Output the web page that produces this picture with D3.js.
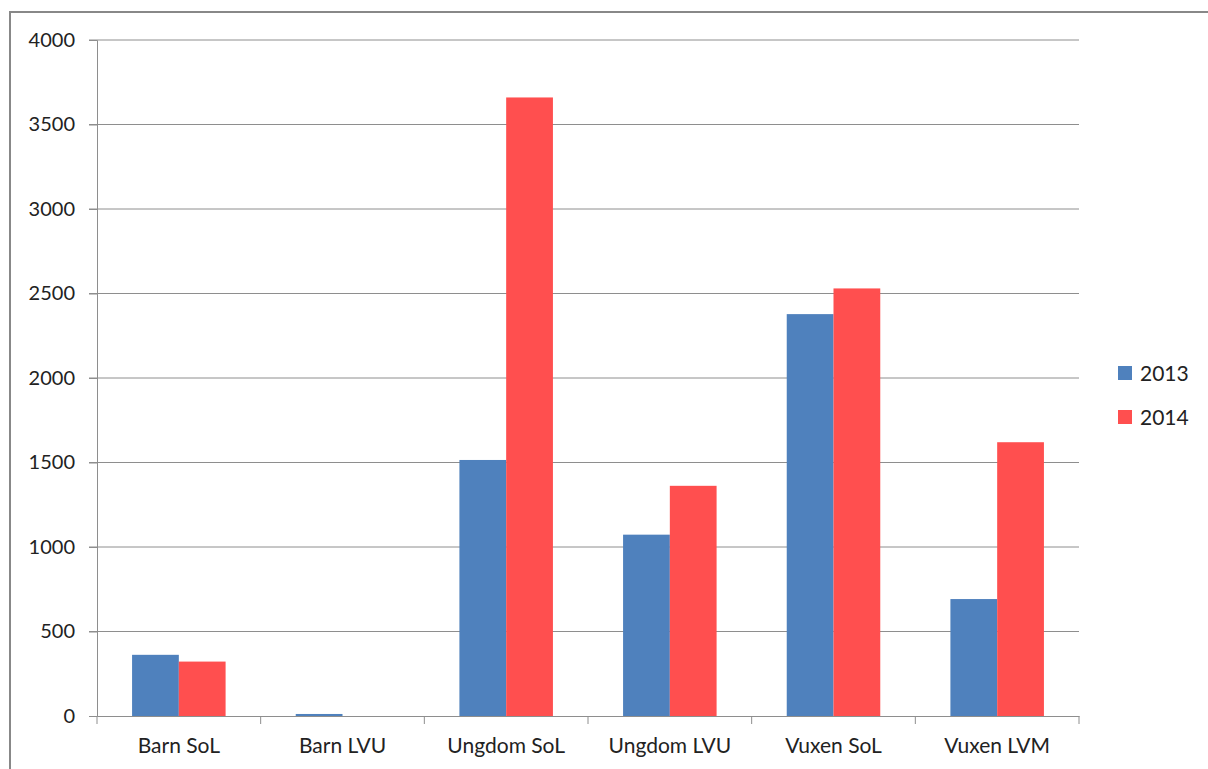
<!DOCTYPE html>
<html>
<head>
<meta charset="utf-8">
<script src="https://cdn.jsdelivr.net/npm/d3@7"></script>
<style>
  body { margin: 0; background: #fff; }
  svg { display: block; }
</style>
</head>
<body>
<svg id="chart" width="1208" height="769"></svg>
<script>
var categories = ["Barn SoL", "Barn LVU", "Ungdom SoL", "Ungdom LVU", "Vuxen SoL", "Vuxen LVM"];
var seriesNames = ["2013", "2014"];
var values2013 = [362, 12, 1515, 1073, 2378, 692];
var values2014 = [322, 0, 3660, 1362, 2530, 1620];
var yTicks = [0, 500, 1000, 1500, 2000, 2500, 3000, 3500, 4000];
var colors = ["#4F81BD", "#FF4F4F"];

var svg = d3.select("#chart");
var font = "Lato, 'Open Sans', sans-serif";

// outer frame
svg.append("rect")
  .attr("x", 10).attr("y", 12)
  .attr("width", 1220).attr("height", 800)
  .style("fill", "none")
  .style("stroke", "#888")
  .style("stroke-width", 2);

var margin = {top: 40, left: 97, right: 1079, bottom: 716};

var x = d3.scaleBand()
  .domain(categories)
  .range([margin.left, margin.right]);

var y = d3.scaleLinear()
  .domain([0, 4000])
  .range([margin.bottom, margin.top]);

// gap width 150% like excel
var barW = x.bandwidth() / 3.5;
var gap = barW * 0.75;

// gridlines
svg.append("g")
  .selectAll("line")
  .data(yTicks.filter(function(d) { return d > 0; }))
  .enter().append("line")
  .attr("x1", margin.left - 8).attr("x2", margin.right)
  .attr("y1", function(d) { return y(d); })
  .attr("y2", function(d) { return y(d); })
  .style("stroke", "#8e8e8e")
  .style("stroke-width", 1);

// bars
var data = [values2013, values2014];
data.forEach(function(vals, s) {
  svg.append("g").selectAll("rect")
    .data(vals)
    .enter().append("rect")
    .attr("x", function(d, i) { return x(categories[i]) + gap + s * barW; })
    .attr("y", function(d) { return y(d); })
    .attr("width", barW)
    .attr("height", function(d) { return y(0) - y(d); })
    .style("fill", colors[s]);
});

// y axis
var yAxis = svg.append("g")
  .attr("transform", "translate(" + margin.left + ",0)")
  .call(d3.axisLeft(y).tickValues(yTicks).tickSize(8).tickPadding(14).tickFormat(d3.format("d")));
yAxis.select(".domain").style("stroke", "#8e8e8e");
yAxis.selectAll(".tick line").style("stroke", "#8e8e8e");
yAxis.selectAll("text")
  .style("font-family", font).style("font-size", "20px").style("fill", "#222");

// x axis
var xAxis = svg.append("g")
  .attr("transform", "translate(0," + margin.bottom + ")")
  .call(d3.axisBottom(x).tickSize(0).tickPadding(22));
xAxis.select(".domain").style("stroke", "#8e8e8e");
xAxis.selectAll("text")
  .style("font-family", font).style("font-size", "21px").style("fill", "#222");

// x tick marks at band boundaries
var bounds = categories.map(function(c) { return x(c); }).concat([margin.right]);
svg.append("g").selectAll("line")
  .data(bounds)
  .enter().append("line")
  .attr("x1", function(d) { return d; }).attr("x2", function(d) { return d; })
  .attr("y1", margin.bottom).attr("y2", margin.bottom + 8)
  .style("stroke", "#8e8e8e");

// legend
var legend = svg.append("g").selectAll("g")
  .data(seriesNames)
  .enter().append("g")
  .attr("transform", function(d, i) { return "translate(1118," + (366 + i * 44) + ")"; });
legend.append("rect")
  .attr("width", 14).attr("height", 14)
  .style("fill", function(d, i) { return colors[i]; });
legend.append("text")
  .attr("x", 22).attr("y", 15)
  .style("font-family", font).style("font-size", "21px").style("fill", "#222")
  .text(function(d) { return d; });
</script>
</body>
</html>
